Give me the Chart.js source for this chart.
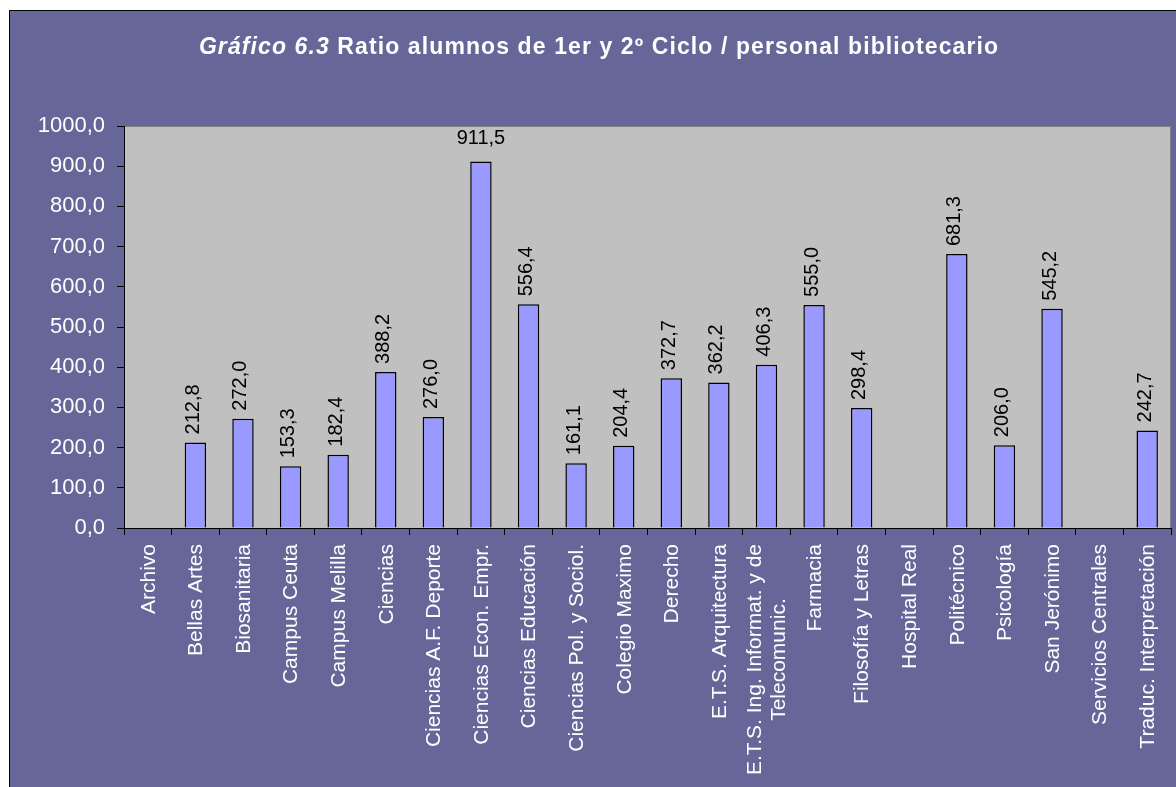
<!DOCTYPE html>
<html lang="es">
<head>
<meta charset="utf-8">
<title>Ratio alumnos / personal bibliotecario</title>
<script src="https://cdn.jsdelivr.net/npm/chart.js@4/dist/chart.umd.min.js"></script>
<style>
  html, body { margin: 0; padding: 0; background: #ffffff; }
  #wrap { width: 1176px; height: 787px; position: relative; overflow: hidden; }
  canvas { display: block; }
</style>
</head>
<body>
<div id="wrap"><canvas id="chart" width="1176" height="787"></canvas></div>
<script>
// Bibliotecas / centros
const categories = [
  'Archivo', 'Bellas Artes', 'Biosanitaria', 'Campus Ceuta', 'Campus Melilla',
  'Ciencias', 'Ciencias A.F. Deporte', 'Ciencias Econ. Empr.', 'Ciencias Educación',
  'Ciencias Pol. y Sociol.', 'Colegio Maximo', 'Derecho', 'E.T.S. Arquitectura',
  ['E.T.S. Ing. Informat. y de', 'Telecomunic.'], 'Farmacia', 'Filosofía y Letras',
  'Hospital Real', 'Politécnico', 'Psicología', 'San Jerónimo', 'Servicios Centrales',
  'Traduc. Interpretación'
];

// Alumnos de 1er y 2º ciclo por persona de plantilla bibliotecaria
const ratios = [
  null, 212.8, 272.0, 153.3, 182.4,
  388.2, 276.0, 911.5, 556.4,
  161.1, 204.4, 372.7, 362.2,
  406.3, 555.0, 298.4,
  null, 681.3, 206.0, 545.2, null,
  242.7
];

const yTicks = [0, 100, 200, 300, 400, 500, 600, 700, 800, 900, 1000];

const titleItalic = 'Gráfico 6.3';
const titleRest = ' Ratio alumnos de 1er y 2º Ciclo / personal bibliotecario';

const FONT = '"Liberation Sans", Arial, Helvetica, sans-serif';
const fmt = v => v.toFixed(1).replace('.', ',');

// Outer panel, plot background and title
const framePlugin = {
  id: 'frame',
  beforeDraw(chart) {
    const { ctx, chartArea: a } = chart;
    ctx.save();
    ctx.fillStyle = '#ffffff';
    ctx.fillRect(0, 0, chart.width, chart.height);
    ctx.fillStyle = '#666699';
    ctx.fillRect(9, 10, chart.width, chart.height);
    ctx.strokeStyle = '#000000';
    ctx.lineWidth = 1;
    ctx.beginPath();
    ctx.moveTo(9.5, chart.height + 5);
    ctx.lineTo(9.5, 10.5);
    ctx.lineTo(chart.width + 5, 10.5);
    ctx.stroke();

    ctx.fillStyle = '#c0c0c0';
    ctx.fillRect(a.left, a.top, a.right - a.left, a.bottom - a.top);
    ctx.strokeStyle = '#808080';
    ctx.beginPath();
    ctx.moveTo(a.left, a.top + 0.5);
    ctx.lineTo(a.right - 0.5, a.top + 0.5);
    ctx.lineTo(a.right - 0.5, a.bottom);
    ctx.stroke();

    // title
    const fItalic = 'italic bold 23px ' + FONT;
    const fBold = 'bold 23px ' + FONT;
    ctx.letterSpacing = '1.1px';
    ctx.font = fItalic;
    const w1 = ctx.measureText(titleItalic).width;
    ctx.font = fBold;
    const w2 = ctx.measureText(titleRest).width;
    let x = 599 - (w1 + w2) / 2;
    const y = 54;
    ctx.fillStyle = '#ffffff';
    ctx.textBaseline = 'alphabetic';
    ctx.textAlign = 'left';
    ctx.font = fItalic;
    ctx.fillText(titleItalic, x, y);
    ctx.font = fBold;
    ctx.fillText(titleRest, x + w1, y);
    ctx.restore();
  }
};

// Rotated category names under the x axis
const xLabelPlugin = {
  id: 'xLabels',
  afterDraw(chart) {
    const { ctx } = chart;
    const xs = chart.scales.x;
    const top = xs.top + 16;
    const lh = 24;
    ctx.save();
    ctx.fillStyle = '#ffffff';
    ctx.font = '21px ' + FONT;
    ctx.textBaseline = 'middle';
    ctx.textAlign = 'center';
    categories.forEach((cat, i) => {
      const lines = Array.isArray(cat) ? cat : [cat];
      const maxW = Math.max(...lines.map(l => ctx.measureText(l).width));
      const px = xs.getPixelForValue(i);
      ctx.save();
      ctx.translate(px, top);
      ctx.rotate(-Math.PI / 2);
      lines.forEach((l, j) => {
        ctx.fillText(l, -maxW / 2, (j - (lines.length - 1) / 2) * lh + 1);
      });
      ctx.restore();
    });
    ctx.restore();
  }
};

// Value labels above each bar
const valueLabelPlugin = {
  id: 'valueLabels',
  afterDatasetsDraw(chart) {
    const { ctx, chartArea: a } = chart;
    const meta = chart.getDatasetMeta(0);
    ctx.save();
    ctx.fillStyle = '#000000';
    ctx.font = '20px ' + FONT;
    meta.data.forEach((bar, i) => {
      const v = ratios[i];
      if (v === null || v === undefined) return;
      const txt = fmt(v);
      const w = ctx.measureText(txt).width;
      const gap = 8;
      if (bar.y - gap - w < a.top) {
        ctx.textAlign = 'center';
        ctx.textBaseline = 'alphabetic';
        ctx.fillText(txt, bar.x, bar.y - 18);
      } else {
        ctx.save();
        ctx.translate(bar.x - 2, bar.y - gap);
        ctx.rotate(-Math.PI / 2);
        ctx.textAlign = 'left';
        ctx.textBaseline = 'middle';
        ctx.fillText(txt, 0, 0);
        ctx.restore();
      }
    });
    ctx.restore();
  }
};

new Chart(document.getElementById('chart'), {
  type: 'bar',
  data: {
    labels: categories,
    datasets: [{
      data: ratios,
      backgroundColor: '#9999ff',
      borderColor: '#000000',
      borderWidth: 1.5,
      barPercentage: 0.45,
      categoryPercentage: 1.0
    }]
  },
  options: {
    responsive: false,
    animation: false,
    events: [],
    layout: { padding: { top: 126, right: 5, left: 0, bottom: 0 } },
    plugins: {
      legend: { display: false },
      title: { display: false },
      tooltip: { enabled: false }
    },
    scales: {
      x: {
        offset: true,
        grid: {
          offset: true,
          drawOnChartArea: false,
          drawTicks: true,
          tickLength: 7,
          color: '#000000'
        },
        border: { color: '#000000', width: 1 },
        ticks: { display: false },
        afterFit(scale) { scale.height = 259; }
      },
      y: {
        min: 0,
        max: 1000,
        afterBuildTicks(scale) { scale.ticks = yTicks.map(v => ({ value: v })); },
        grid: {
          drawOnChartArea: false,
          drawTicks: true,
          tickLength: 7,
          color: '#000000'
        },
        border: { color: '#000000', width: 1 },
        ticks: {
          color: '#ffffff',
          font: { family: FONT, size: 22 },
          padding: 12,
          callback: v => fmt(v)
        },
        afterFit(scale) { scale.width = 124; }
      }
    }
  },
  plugins: [framePlugin, xLabelPlugin, valueLabelPlugin]
});
</script>
</body>
</html>
